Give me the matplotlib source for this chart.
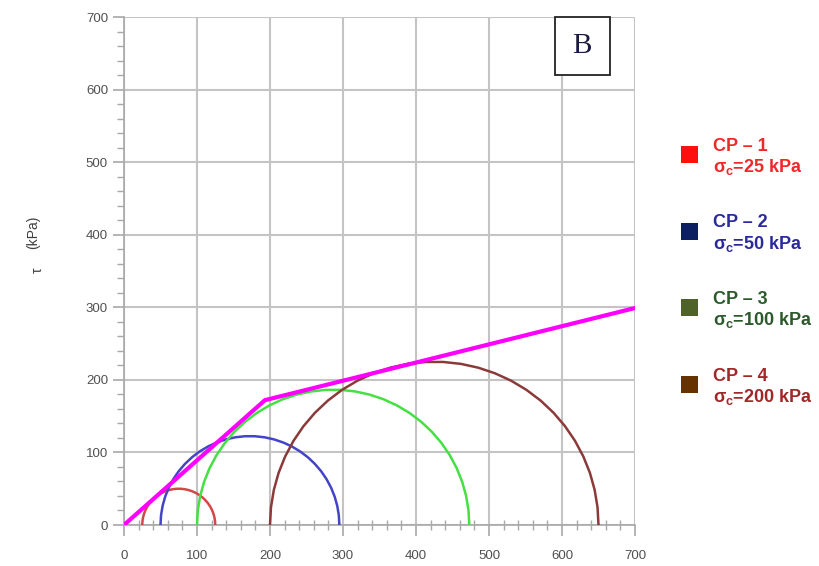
import matplotlib.pyplot as plt
import numpy as np
from matplotlib.patches import Rectangle

plt.rcParams['font.family'] = ['Liberation Sans', 'DejaVu Sans']
plt.rcParams['mathtext.fontset'] = 'custom'
plt.rcParams['mathtext.rm'] = 'Liberation Sans:bold'
plt.rcParams['mathtext.it'] = 'Liberation Sans:bold'
plt.rcParams['mathtext.bf'] = 'Liberation Sans:bold'

# essais : contrainte mineure / majeure (kPa)
sigma3 = [25, 50, 100, 200]
sigma1 = [125, 295, 473, 650]
cercle_couleurs = ['#d04848', '#4444c8', '#44e044', '#8b3a3a']

# enveloppe de rupture
env_x = [0, 193, 700]
env_y = [0, 172, 299]

noms = ['CP – 1', 'CP – 2', 'CP – 3', 'CP – 4']
sigma_c = ['25', '50', '100', '200']
carre_couleurs = ['#ff1010', '#0a2060', '#4f6228', '#663300']
texte_couleurs = ['#f02828', '#2a2a9a', '#2d5a2d', '#a02828']

fig = plt.figure(figsize=(8.2, 5.66), dpi=100)
ax = fig.add_axes([124/820, 1-525/566, 511/820, 508/566])

t = np.linspace(0, np.pi, 30)
for s3, s1, c in zip(sigma3, sigma1, cercle_couleurs):
    centre = (s1 + s3) / 2
    r = (s1 - s3) / 2
    ax.plot(centre + r*np.cos(t), r*np.sin(t), color=c, lw=1.8, zorder=3)

ax.plot(env_x, env_y, color='#ff00ff', lw=3, zorder=4, solid_capstyle='round')

ax.set_xlim(0, 700)
ax.set_ylim(0, 700)
ax.set_xticks(np.arange(0, 701, 100))
ax.set_yticks(np.arange(0, 701, 100))
ax.set_xticks(np.arange(0, 701, 20), minor=True)
ax.set_yticks(np.arange(0, 701, 20), minor=True)
ax.grid(True, which='major', color='#c4c4c4', lw=1.5)
ax.set_axisbelow(True)
for s in ['top', 'right']:
    ax.spines[s].set_visible(False)
for s in ['left', 'bottom']:
    ax.spines[s].set_color('#a8a8a8')
    ax.spines[s].set_linewidth(1.2)
ax.tick_params(axis='both', which='major', color='#a8a8a8', length=8, width=1.2,
               labelsize=9.5, labelcolor='#505050')
ax.tick_params(axis='x', which='major', pad=10)
ax.tick_params(axis='x', which='minor', direction='inout', length=7, color='#a8a8a8', width=1)
ax.tick_params(axis='y', which='minor', direction='out', length=5, color='#a8a8a8', width=1)

fig.text(33/820, 1-232/566, '(kPa)', rotation=90, ha='center', va='center',
         fontsize=10, color='#404040')
fig.text(38/820, 1-270/566, 'τ', rotation=90, ha='center', va='center',
         fontsize=10, color='#404040')

# encadré B
ax.add_patch(Rectangle((431/511, 450/508), 55/511, 58/508, transform=ax.transAxes,
                       facecolor='white', edgecolor='#222222', lw=1.3, clip_on=False, zorder=5))
ax.text(458/511, 479/508, 'B', transform=ax.transAxes, ha='center', va='center',
        fontsize=21, family='Liberation Serif', color='#1a1a40', zorder=6)

# légende
for i in range(4):
    yc = 155 + i*76.7
    fig.patches.append(Rectangle((681/820, 1-(yc+8)/566), 17/820, 17/566,
                                 transform=fig.transFigure, facecolor=carre_couleurs[i],
                                 edgecolor='none'))
    fig.text(713/820, 1-(yc-9)/566, noms[i], ha='left', va='center',
             fontsize=13, fontweight='bold', color=texte_couleurs[i])
    fig.text(713/820, 1-(yc+12)/566, r'$\sigma_c$=' + sigma_c[i] + ' kPa', ha='left',
             va='center', fontsize=13, fontweight='bold', color=texte_couleurs[i])

plt.savefig('out.png', dpi=100)
